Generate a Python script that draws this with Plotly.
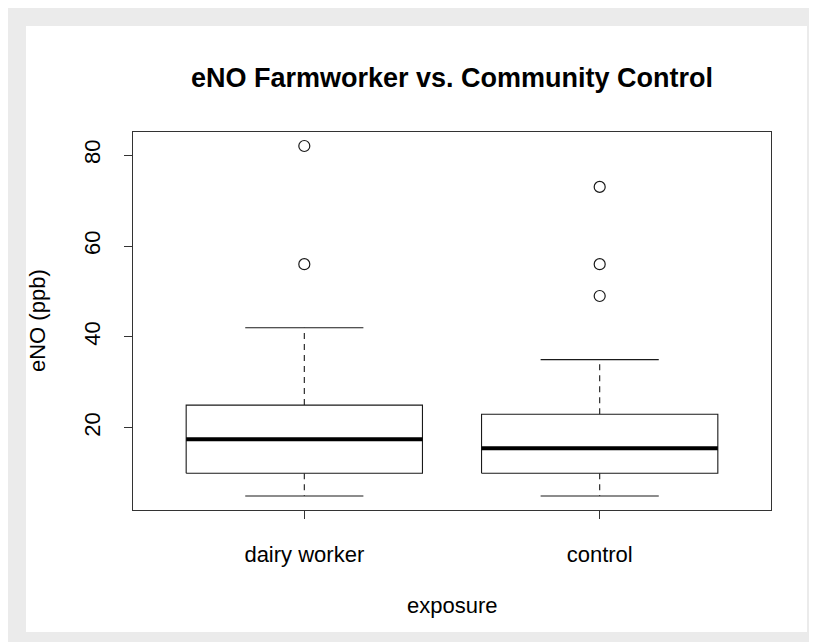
import plotly.graph_objects as go

# ---- data ----
groups = ["dairy worker", "control"]
lower_whisker = [5, 5]
q1 = [10, 10]
median = [17.5, 15.5]
q3 = [25, 23]
upper_whisker = [42, 35]
outliers = [[82, 56], [73, 56, 49]]
y_ticks = [20, 40, 60, 80]

title_text = "eNO Farmworker vs. Community Control"
x_title = "exposure"
y_title = "eNO (ppb)"

# ---- style ----
FONT = "Liberation Sans, Arial, Helvetica, sans-serif"
INK = "#1a1a1a"
BOX_HALF = 0.4      # boxwex 0.8
STAPLE_HALF = 0.2   # staplewex 0.5

fig = go.Figure()

for i, name in enumerate(groups):
    xc = i + 1
    # whiskers (dashed)
    fig.add_trace(go.Scatter(
        x=[xc, xc, None, xc, xc],
        y=[q3[i], upper_whisker[i], None, q1[i], lower_whisker[i]],
        mode="lines", line=dict(color=INK, width=1.1, dash="6px,5px"),
        hoverinfo="skip", showlegend=False))
    # staples
    fig.add_trace(go.Scatter(
        x=[xc - STAPLE_HALF, xc + STAPLE_HALF, None, xc - STAPLE_HALF, xc + STAPLE_HALF],
        y=[upper_whisker[i], upper_whisker[i], None, lower_whisker[i], lower_whisker[i]],
        mode="lines", line=dict(color=INK, width=1.1),
        hoverinfo="skip", showlegend=False))
    # box
    fig.add_trace(go.Scatter(
        x=[xc - BOX_HALF, xc + BOX_HALF, xc + BOX_HALF, xc - BOX_HALF, xc - BOX_HALF],
        y=[q1[i], q1[i], q3[i], q3[i], q1[i]],
        mode="lines", fill="toself", fillcolor="white",
        line=dict(color=INK, width=1.1),
        name=name, showlegend=False))
    # median
    fig.add_trace(go.Scatter(
        x=[xc - BOX_HALF, xc + BOX_HALF],
        y=[median[i], median[i]],
        mode="lines", line=dict(color="black", width=4),
        hoverinfo="skip", showlegend=False))
    # outliers
    fig.add_trace(go.Scatter(
        x=[xc] * len(outliers[i]), y=outliers[i],
        mode="markers",
        marker=dict(symbol="circle-open", size=11, color=INK, line=dict(width=1.2)),
        showlegend=False))

# geometry (figure pixels; page body adds an 8px offset)
W, H = 817, 642
L, R, T, B = 125, 54, 124, 140
pw, ph = W - L - R, H - T - B

def px_x(px):
    return (px - L) / pw

def px_y(py):
    return (H - B - py) / ph

fig.update_layout(
    width=W, height=H, autosize=False,
    margin=dict(l=L, r=R, t=T, b=B, pad=0),
    paper_bgcolor="#ebebeb",
    plot_bgcolor="white",
    font=dict(family=FONT, size=22, color="black"),
    title=dict(text="<b>" + title_text + "</b>", x=0.5, xref="paper",
               y=1 - 70 / H, yref="container", yanchor="middle", xanchor="center",
               font=dict(family=FONT, size=27, color="black")),
    xaxis=dict(range=[0.42, 2.58], tickmode="array", tickvals=[1, 2], ticktext=groups,
               showgrid=False, zeroline=False, showline=True, mirror=True,
               linecolor="#333333", linewidth=1.4,
               ticks="outside", ticklen=8, tickwidth=1.2, tickcolor="#333333",
               ticklabelstandoff=16, tickfont=dict(size=22)),
    yaxis=dict(range=[1.92, 85.08], tickmode="array", tickvals=y_ticks,
               showgrid=False, zeroline=False, showline=True, mirror=True,
               linecolor="#333333", linewidth=1.4,
               ticks="outside", ticklen=8, tickwidth=1.2, tickcolor="#333333",
               tickangle=-90, ticklabelstandoff=15, tickfont=dict(size=22)),
    shapes=[dict(type="rect", xref="paper", yref="paper",
                 x0=px_x(18), x1=px_x(799), y0=px_y(624), y1=px_y(18),
                 fillcolor="white", line=dict(width=0), layer="below")],
    annotations=[
        dict(text=x_title, xref="paper", yref="paper", x=0.5, y=px_y(597),
             xanchor="center", yanchor="middle", showarrow=False,
             font=dict(size=22)),
        dict(text=y_title, xref="paper", yref="paper", x=px_x(29), y=0.5,
             xanchor="center", yanchor="middle", showarrow=False, textangle=-90,
             font=dict(size=22)),
    ],
)

fig.write_html("out.html")
